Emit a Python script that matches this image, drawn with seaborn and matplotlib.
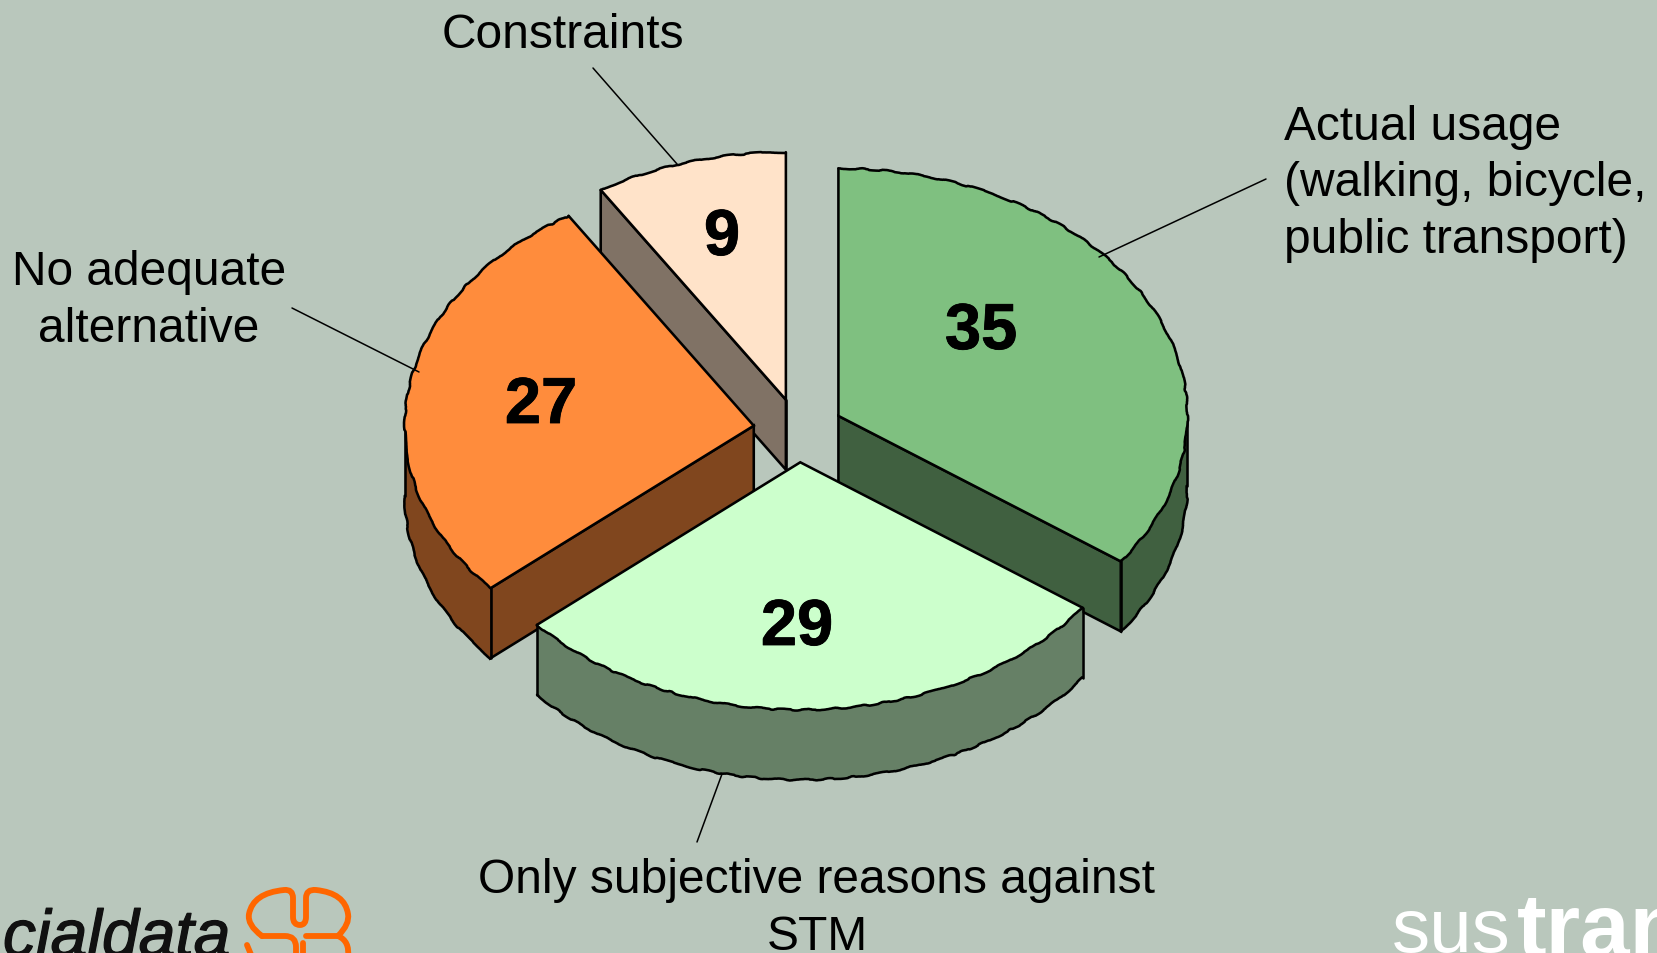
import numpy as np
import matplotlib
matplotlib.use("Agg")
import matplotlib.pyplot as plt
import matplotlib.patheffects as pe
from matplotlib.path import Path
from matplotlib.patches import PathPatch, Polygon
import seaborn as sns

# ---- data ----
categories = ["Actual usage\n(walking, bicycle,\npublic transport)",
              "Only subjective reasons against\nSTM",
              "No adequate\nalternative",
              "Constraints"]
values = [35, 29, 27, 9]                # printed labels
shares = [35.0, 28.6, 27.5, 8.9]        # slice sizes
top_colors = ["#7FC080", "#CCFFCC", "#FF8C3C", "#FFE3C9"]

# ---- layout (pixels of the 1658x954 canvas) ----
BG = "#B9C7BC"
W, H = 1658, 954
CX, CY = 798.3, 431.4
RX, RY = 349.0, 247.5
DEPTH = 70.0
EXPLODE = 0.129
EDGE = 1.85
number_pos = [(981, 333), (797, 629), (541, 407), (722, 239)]
label_pos = [(1284, 184, "left"), (817, 909, "center"), (149, 301, "center"), (563, 36, "center")]
leaders = [((1266, 180), (1099, 258)), ((722, 775), (697, 843)),
           ((292, 309), (419, 373)), ((593, 69), (677, 165))]

sns.set_theme(style="white", rc={"figure.facecolor": BG, "axes.facecolor": BG})
plt.rcParams["font.family"] = ["Liberation Sans", "DejaVu Sans"]
palette = sns.color_palette(top_colors)

fig = plt.figure(figsize=(W / 100, H / 100), dpi=100)
ax = fig.add_axes([0, 0, 1, 1])
ax.set_xlim(0, W)
ax.set_ylim(H, 0)
ax.axis("off")


def rough(line):
    line.set_sketch_params(scale=0.8, length=55, randomness=8)
    return line


def arc(apex, t0, t1, drop=0.0):
    t = np.radians(np.linspace(t0, t1, max(int(abs(t1 - t0)) * 2, 2)))
    return np.column_stack([apex[0] + RX * np.cos(t), apex[1] - RY * np.sin(t) + drop])


def direction(ang):
    a = np.radians(ang)
    return np.array([RX * np.cos(a), -RY * np.sin(a)])


def cut_face_visible(ang, mid):
    """A flat cut shows only when the slice's top lies above that edge on screen."""
    d = direction(ang)
    n = np.array([d[1], -d[0]])
    if n[1] > 0:
        n = -n
    return n[1] < 0 and np.dot(direction(mid), n) > 0


# wedge angles, clockwise from 12 o'clock
fracs = np.array(shares) / sum(shares)
ends = 90 - 360 * np.cumsum(fracs)
starts = np.concatenate([[90], ends[:-1]])

wedges = []
for s, e, col in zip(starts, ends, palette):
    mid = np.radians((s + e) / 2)
    apex = (CX + EXPLODE * RX * np.cos(mid), CY - EXPLODE * RY * np.sin(mid))
    wedges.append((s, e, col, apex))

# painter's order: back to front
order = [3, 0, 2, 1]
for idx in order:
    s, e, col, apex = wedges[idx]
    side = tuple(np.array(col) * 0.5)
    z = order.index(idx) * 10 + 1
    kw = dict(facecolor=side, edgecolor="black", linewidth=EDGE, joinstyle="miter", zorder=z)
    mid_ang = (s + e) / 2
    # flat cut faces
    for ang in (s, e):
        if cut_face_visible(ang, mid_ang):
            p = arc(apex, ang, ang)[0]
            ax.add_patch(Polygon([apex, p, (p[0], p[1] + DEPTH), (apex[0], apex[1] + DEPTH)], closed=True, **kw))
    if idx == 3:  # straight back edge of the small slice reaches down to its base
        ax.plot([apex[0], apex[0]], [apex[1], apex[1] + DEPTH], color="black", lw=EDGE, zorder=z)
    # outer rim: only the part in the lower half faces the viewer
    lo_v, hi_v = max(e, -180), min(s, 0)
    if lo_v < hi_v:
        up = arc(apex, hi_v, lo_v)
        dn = arc(apex, lo_v, hi_v, DEPTH)
        ax.add_patch(Polygon(np.vstack([up, dn]), closed=True, facecolor=side, edgecolor="none", zorder=z + 1))
        rough(ax.plot(dn[:, 0], dn[:, 1], color="black", lw=EDGE, zorder=z + 2, solid_capstyle="round")[0])
        for pt in (up[0], up[-1]):
            ax.plot([pt[0], pt[0]], [pt[1], pt[1] + DEPTH], color="black", lw=EDGE, zorder=z + 2)
    # top face
    rim = arc(apex, s, e)
    ax.add_patch(Polygon(np.vstack([[apex], rim]), closed=True, facecolor=col, edgecolor="none", zorder=z + 3))
    rough(ax.plot(rim[:, 0], rim[:, 1], color="black", lw=EDGE, zorder=z + 4)[0])
    ax.plot([rim[0, 0], apex[0], rim[-1, 0]], [rim[0, 1], apex[1], rim[-1, 1]], color="black",
            lw=EDGE, zorder=z + 4, solid_joinstyle="miter")

# value labels
for v, (x, y) in zip(values, number_pos):
    ax.text(x, y, str(v), fontsize=46.8, fontweight="bold", color="black", ha="center", va="center", zorder=60,
            path_effects=[pe.withStroke(linewidth=0.6, foreground="black")])

# category labels and leader lines
for name, (x, y, ha) in zip(categories, label_pos):
    ax.text(x, y, name, fontsize=34.5, color="black", ha=ha, va="center", multialignment=ha,
            linespacing=1.34, zorder=60)
for (p0, p1) in leaders:
    ax.plot([p0[0], p1[0]], [p0[1], p1[1]], color="black", lw=1.1, zorder=59)

# logos, cropped by the canvas as in the source slide
ax.text(3, 957, "cialdata", fontsize=47.5, style="italic", color="#111111", ha="left", va="baseline",
        path_effects=[pe.withStroke(linewidth=0.9, foreground="#111111")])
ax.text(1392, 952, "sus", fontsize=55, color="white", ha="left", va="baseline")
ax.text(1517, 956, "tran", fontsize=64, fontweight="bold", color="white", ha="left", va="baseline")

M, L, Q = Path.MOVETO, Path.LINETO, Path.CURVE3
logo_segments = [
    [(M, (262, 937)), (Q, (247, 926)), (Q, (249, 915)), (Q, (253, 894)), (Q, (284, 891)),
     (Q, (293, 890)), (Q, (293, 899)), (L, (293, 918)), (Q, (293, 926)), (Q, (300, 926)),
     (Q, (306, 926)), (Q, (306, 918)), (L, (306, 899)), (Q, (306, 890)), (Q, (316, 891)),
     (Q, (345, 894)), (Q, (348, 915)), (Q, (350, 925)), (Q, (338, 937)), (L, (306, 937))],
    [(M, (262, 937)), (L, (285, 937)), (Q, (296, 937)), (Q, (296, 948)), (L, (296, 958))],
    [(M, (338, 937)), (Q, (350, 942)), (Q, (348, 958))],
    [(M, (303, 944)), (L, (303, 958))],
    [(M, (247, 946)), (L, (252, 958))],
]
for seg in logo_segments:
    codes = [c for c, _ in seg]
    verts = [v for _, v in seg]
    ax.add_patch(PathPatch(Path(verts, codes), facecolor="none", edgecolor="#FF6600", lw=4.2,
                           joinstyle="round", capstyle="round", zorder=5))

fig.savefig("out.png", dpi=100, facecolor=BG)
